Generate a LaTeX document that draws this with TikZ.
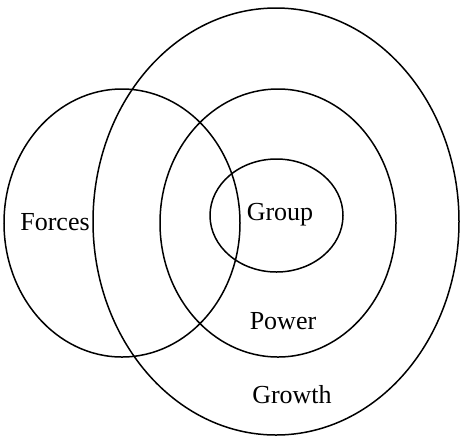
\documentclass[tikz,border=0pt]{standalone}
\usepackage{fontspec}
\setmainfont{Liberation Serif}
\usetikzlibrary{shapes.geometric}
\tikzstyle{ring} = [ellipse, draw=black, line width=0.75pt, inner sep=0pt, outer sep=0pt]
\tikzstyle{tag} = [font=\fontsize{13}{15}\selectfont, inner sep=0pt]

\begin{document}
\begin{tikzpicture}[x=0.5pt, y=-0.5pt]
    \useasboundingbox (0,0) rectangle (460,435);
    \node (growth)[ring, minimum width=183pt, minimum height=213.5pt] at (276,221.5) {};
    \node (power)[ring, minimum width=118pt, minimum height=134pt] at (278,223) {};
    \node (group)[ring, minimum width=66.5pt, minimum height=56.5pt] at (276.5,215.5) {};
    \node (forces)[ring, minimum width=118pt, minimum height=134pt] at (122,223) {};
    \node (tforces)[tag] at (55,222) {Forces};
    \node (tgroup)[tag] at (280,215) {Group};
    \node (tpower)[tag] at (283,321) {Power};
    \node (tgrowth)[tag] at (292,395) {Growth};
\end{tikzpicture}
\end{document}
